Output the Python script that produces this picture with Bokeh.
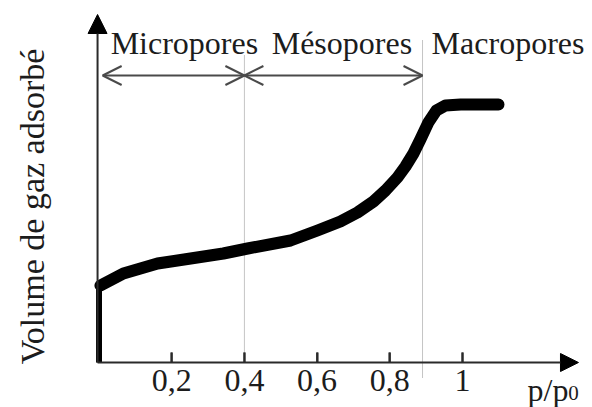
from math import pi
from bokeh.plotting import figure
from bokeh.models import Arrow, NormalHead, OpenHead, Label, FixedTicker, Range1d, LinearAxis
from bokeh.embed import file_html
from bokeh.resources import INLINE

# ---- data ----
p_rel = [0.0, 0.0, 0.004, 0.067, 0.161, 0.252, 0.342, 0.409, 0.527, 0.601, 0.664,
         0.711, 0.755, 0.788, 0.821, 0.843, 0.865, 0.884, 0.906, 0.928, 0.953,
         0.995, 1.099]
volume = [0.0, 0.74, 0.77, 0.89, 0.99, 1.04, 1.09, 1.14, 1.22, 1.32, 1.41,
          1.50, 1.61, 1.72, 1.85, 1.96, 2.09, 2.23, 2.40, 2.52, 2.57,
          2.58, 2.58]
boundaries = [0.4, 0.89]
zone_names = ["Micropores", "Mésopores", "Macropores"]
tick_values = [0.2, 0.4, 0.6, 0.8, 1.0]
tick_labels = ["0,2", "0,4", "0,6", "0,8", "1"]

SERIF = "Liberation Serif"
TXT = "#1c1c1c"
AXC = "#2a2a2a"

p = figure(width=592, height=407, output_backend="svg", toolbar_location=None,
           x_range=Range1d(-0.271, 1.3576), y_range=Range1d(-0.45, 3.62),
           min_border=0, x_axis_location=None, y_axis_location=None)
p.grid.visible = False
p.outline_line_color = None
p.background_fill_color = "white"

# x axis (at y = 0): tick labels
ax = LinearAxis(fixed_location=0)
ax.ticker = FixedTicker(ticks=tick_values)
ax.major_label_overrides = {v: t for v, t in zip(tick_values, tick_labels)}
ax.axis_line_color = None
ax.major_tick_in = 10
ax.major_tick_out = 0
ax.major_tick_line_width = 2
ax.major_tick_line_color = AXC
ax.minor_tick_line_color = None
ax.major_label_standoff = 7
ax.major_label_text_font = SERIF
ax.major_label_text_font_size = "32px"
ax.major_label_text_color = TXT
p.add_layout(ax, "below")

# tick marks pointing up from the axis
p.vbar(x=tick_values, bottom=0.0, top=0.10, width=0.0055,
       fill_color=AXC, line_color=None)

# boundary dotted lines
p.segment(x0=boundaries, y0=[0, -0.15], x1=boundaries, y1=[3.07, 3.22],
          line_color="#8a8a8a", line_width=1, line_dash="1 1")

# isotherm: vertical start then the thick curve
p.line(p_rel[:3], volume[:3], line_color="black", line_width=6)
p.line(p_rel[2:], volume[2:], line_color="black", line_width=12,
       line_cap="round", line_join="round")

# axes arrows
p.add_layout(Arrow(x_start=-0.004, y_start=0, x_end=1.319, y_end=0,
                   line_color=AXC, line_width=2,
                   end=NormalHead(size=18, fill_color="black", line_color="black")))
p.add_layout(Arrow(x_start=-0.004, y_start=0, x_end=-0.004, y_end=3.48,
                   line_color=AXC, line_width=2,
                   end=NormalHead(size=19, fill_color="black", line_color="black")))

# range arrows
arr_y = 2.87
for xs, xe in [(0.01, boundaries[0]), (boundaries[0], boundaries[1])]:
    p.add_layout(Arrow(x_start=xs, y_start=arr_y, x_end=xe, y_end=arr_y,
                       line_color="#4a4a4a", line_width=2,
                       start=OpenHead(size=19, line_color="#4a4a4a", line_width=2),
                       end=OpenHead(size=19, line_color="#4a4a4a", line_width=2)))

# zone names
for name, xx in zip(zone_names, [0.032, 0.475, 0.915]):
    p.add_layout(Label(x=xx, y=3.20, text=name, text_font=SERIF,
                       text_font_size="32px", text_color=TXT,
                       text_baseline="alphabetic"))

# y label
p.add_layout(Label(x=-0.184, y=1.56, text="Volume de gaz adsorbé", angle=pi / 2,
                   text_font=SERIF, text_font_size="34px", text_color=TXT,
                   text_align="center", text_baseline="alphabetic"))

# x label p/p0
p.add_layout(Label(x=1.179, y=-0.27, text="p/p", text_font=SERIF,
                   text_font_size="32px", text_color=TXT, text_baseline="alphabetic"))
p.add_layout(Label(x=1.291, y=-0.30, text="0", text_font=SERIF,
                   text_font_size="21px", text_color=TXT, text_baseline="alphabetic"))

open("out.html", "w").write(file_html(p, INLINE))
